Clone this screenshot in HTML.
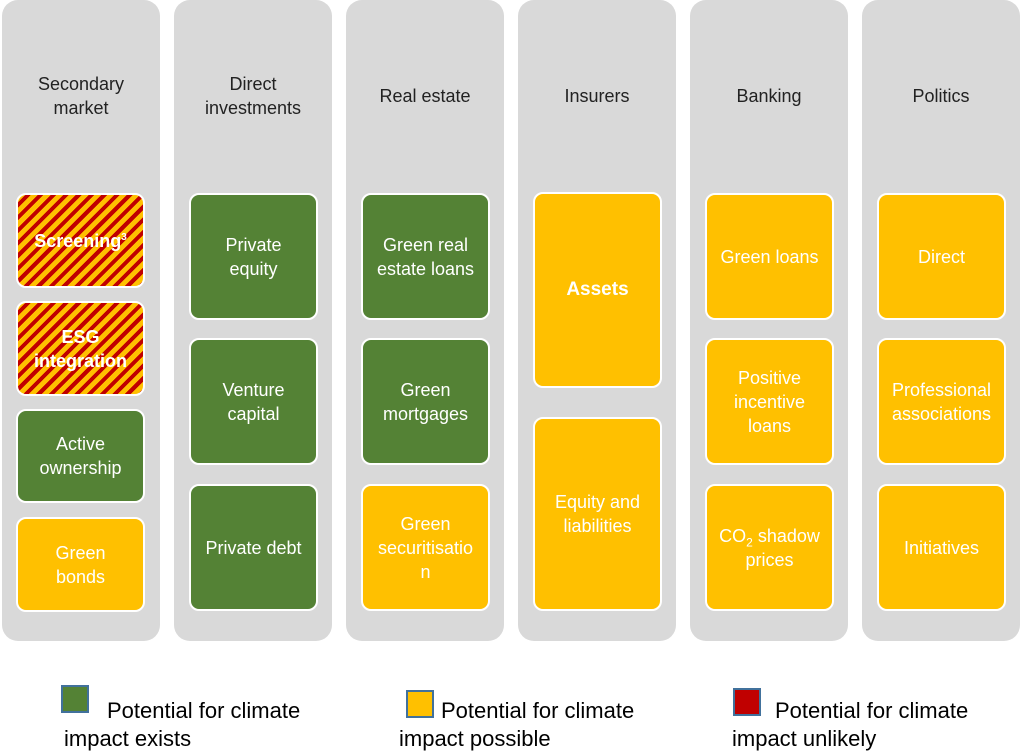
<!DOCTYPE html>
<html><head><style>
body{margin:0;width:1024px;height:752px;background:#fff;position:relative;overflow:hidden;font-family:"Liberation Sans",sans-serif}
.col{position:absolute;top:0;width:158px;height:641px;background:#d9d9d9;border-radius:16px}
.h{position:absolute;top:0;width:158px;height:192px;display:flex;align-items:center;justify-content:center;text-align:center;font-size:18px;color:#222;line-height:24px}
.b{position:absolute;border:2px solid #fff;border-radius:10px;display:flex;align-items:center;justify-content:center;text-align:center;color:#fff;font-size:18px;line-height:24px;box-sizing:border-box;width:129px}
.g{background:#548235}.y{background:#ffc000}
.s{background:repeating-linear-gradient(135deg,#ffc000 0 5px,#c00000 5px 9px);font-weight:bold}
.sq{position:absolute;width:24px;height:24px;border:2px solid #41719c}
.lt{position:absolute;font-size:22px;color:#000;line-height:29px}
sup,sub{line-height:0}
</style></head><body>
<div class="col" style="left:2px"></div><div class="col" style="left:174px"></div><div class="col" style="left:346px"></div><div class="col" style="left:518px"></div><div class="col" style="left:690px"></div><div class="col" style="left:862px"></div>
<div class="h" style="left:2px">Secondary<br>market</div>
<div class="h" style="left:174px">Direct<br>investments</div>
<div class="h" style="left:346px">Real estate</div>
<div class="h" style="left:518px">Insurers</div>
<div class="h" style="left:690px">Banking</div>
<div class="h" style="left:862px">Politics</div>

<div class="b s" style="left:16px;top:193px;height:95px"><span>Screening<sup style="font-size:10px">3</sup></span></div>
<div class="b s" style="left:16px;top:301px;height:95px"><span>ESG<br>integration</span></div>
<div class="b g" style="left:16px;top:409px;height:94px"><span>Active<br>ownership</span></div>
<div class="b y" style="left:16px;top:517px;height:95px"><span>Green<br>bonds</span></div>

<div class="b g" style="left:189px;top:193px;height:127px"><span>Private<br>equity</span></div>
<div class="b g" style="left:189px;top:338px;height:127px"><span>Venture<br>capital</span></div>
<div class="b g" style="left:189px;top:484px;height:127px"><span>Private debt</span></div>

<div class="b g" style="left:361px;top:193px;height:127px"><span>Green real<br>estate loans</span></div>
<div class="b g" style="left:361px;top:338px;height:127px"><span>Green<br>mortgages</span></div>
<div class="b y" style="left:361px;top:484px;height:127px"><span>Green<br>securitisatio<br>n</span></div>

<div class="b y" style="left:533px;top:192px;height:196px;font-weight:bold;font-size:19px"><span>Assets</span></div>
<div class="b y" style="left:533px;top:417px;height:194px"><span>Equity and<br>liabilities</span></div>

<div class="b y" style="left:705px;top:193px;height:127px"><span>Green loans</span></div>
<div class="b y" style="left:705px;top:338px;height:127px"><span>Positive<br>incentive<br>loans</span></div>
<div class="b y" style="left:705px;top:484px;height:127px"><span>CO<sub style="font-size:12px">2</sub> shadow<br>prices</span></div>

<div class="b y" style="left:877px;top:193px;height:127px"><span>Direct</span></div>
<div class="b y" style="left:877px;top:338px;height:127px"><span>Professional<br>associations</span></div>
<div class="b y" style="left:877px;top:484px;height:127px"><span>Initiatives</span></div>

<div class="sq" style="left:61px;top:685px;background:#548235"></div>
<div class="lt" style="left:107px;top:696px">Potential for climate</div>
<div class="lt" style="left:64px;top:724px">impact exists</div>
<div class="sq" style="left:406px;top:690px;background:#ffc000"></div>
<div class="lt" style="left:441px;top:696px">Potential for climate</div>
<div class="lt" style="left:399px;top:724px">impact possible</div>
<div class="sq" style="left:733px;top:688px;background:#c00000"></div>
<div class="lt" style="left:775px;top:696px">Potential for climate</div>
<div class="lt" style="left:732px;top:724px">impact unlikely</div>
</body></html>
